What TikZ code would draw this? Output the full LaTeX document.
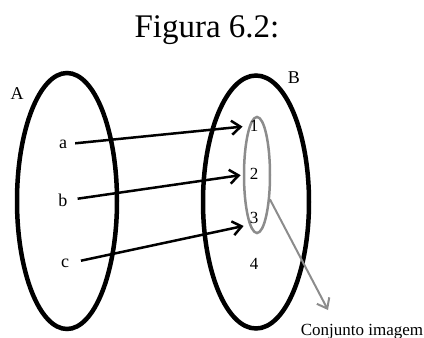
\documentclass[tikz,border=0pt]{standalone}
\usepackage{fontspec}
\newfontfamily\labelfont{Liberation Serif}
\usetikzlibrary{shapes.geometric,arrows.meta,positioning}

\begin{document}
\begin{tikzpicture}[x=1pt,y=-1pt,
    conjunto/.style={draw, ellipse, line width=4.5pt, minimum width=100pt, minimum height=256pt, inner sep=0pt, outer sep=0pt},
    imagem/.style={draw=black!45, ellipse, line width=2.5pt, minimum width=26pt, minimum height=116pt, inner sep=0pt, outer sep=0pt},
    elem/.style={font=\labelfont\fontsize{18}{18}\selectfont, inner sep=1pt},
    num/.style={font=\labelfont\fontsize{17}{17}\selectfont, inner sep=1pt},
    seta/.style={-{Straight Barb[length=9pt,width=14pt]}, line width=2.5pt}
]
    \useasboundingbox (0,0) rectangle (424,338);
    \node[font=\labelfont\fontsize{33}{33}\selectfont, anchor=base] (titulo) at (207,37) {Figura 6.2:};

    % conjuntos
    \node[conjunto] (setA) at (67,201) {};
    \node[conjunto, minimum width=106pt, minimum height=253pt] (setB) at (256,202) {};
    \node[imagem] (img) at (257,175) {};
    \node[elem] (labA) at (17,94) {A};
    \node[elem] (labB) at (294,78) {B};

    % elementos
    \node[elem] (a) at (63,144) {a};
    \node[elem] (b) at (63,200) {b};
    \node[elem] (c) at (65,263) {c};
    \node[num] (n1) at (254,126) {1};
    \node[num] (n2) at (254,174) {2};
    \node[num] (n3) at (254,218) {3};
    \node[num] (n4) at (254,264) {4};

    \draw[seta, shorten <=7pt, shorten >=6pt] (a.east) -- (n1.west);
    \draw[seta, shorten <=9pt, shorten >=8pt] (b.east) -- (n2.west);
    \draw[seta, shorten <=11pt, shorten >=5pt] (c.east) -- (n3.south west);

    % conjunto imagem
    \coordinate (fim) at (328,310);
    \draw[seta, draw=black!45, line width=2pt, shorten <=2pt] (img.-62) -- (fim);
    \node[elem, font=\labelfont\fontsize{17}{17}\selectfont, anchor=base] (rotulo) at (362,335) {Conjunto imagem};
\end{tikzpicture}
\end{document}
